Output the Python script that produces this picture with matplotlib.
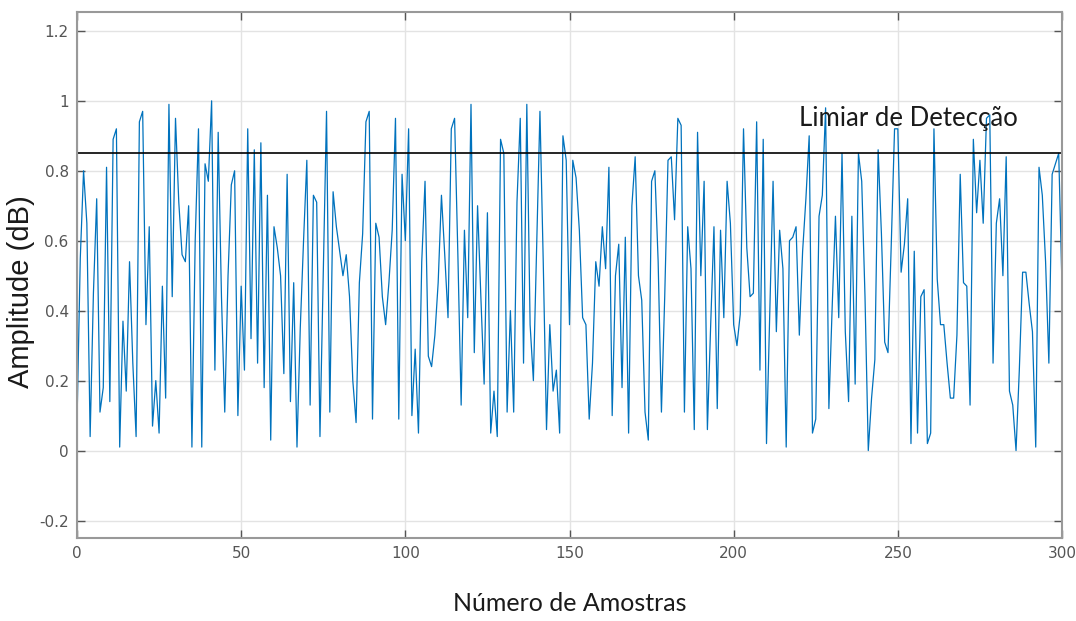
import matplotlib
matplotlib.use("Agg")
import matplotlib.pyplot as plt
import numpy as np

amplitude = [
    0.08, 0.55, 0.80, 0.65, 0.04, 0.45, 0.72, 0.11, 0.18, 0.81,
    0.14, 0.89, 0.92, 0.01, 0.37, 0.17, 0.54, 0.25, 0.04, 0.94,
    0.97, 0.36, 0.64, 0.07, 0.20, 0.05, 0.47, 0.15, 0.99, 0.44,
    0.95, 0.71, 0.56, 0.54, 0.70, 0.01, 0.60, 0.92, 0.01, 0.82,
    0.77, 1.00, 0.23, 0.91, 0.44, 0.11, 0.50, 0.76, 0.80, 0.10,
    0.47, 0.23, 0.92, 0.32, 0.86, 0.25, 0.88, 0.18, 0.73, 0.03,
    0.64, 0.58, 0.50, 0.22, 0.79, 0.14, 0.48, 0.01, 0.35, 0.60,
    0.83, 0.13, 0.73, 0.71, 0.04, 0.51, 0.97, 0.11, 0.74, 0.64,
    0.57, 0.50, 0.56, 0.44, 0.20, 0.08, 0.48, 0.62, 0.94, 0.97,
    0.09, 0.65, 0.61, 0.44, 0.36, 0.48, 0.63, 0.95, 0.09, 0.79,
    0.60, 0.92, 0.10, 0.29, 0.05, 0.54, 0.77, 0.27, 0.24, 0.33,
    0.48, 0.73, 0.56, 0.38, 0.92, 0.95, 0.56, 0.13, 0.63, 0.38,
    0.99, 0.28, 0.70, 0.44, 0.19, 0.68, 0.05, 0.17, 0.04, 0.89,
    0.85, 0.11, 0.40, 0.11, 0.71, 0.95, 0.25, 0.99, 0.36, 0.20,
    0.58, 0.97, 0.54, 0.06, 0.36, 0.17, 0.23, 0.05, 0.90, 0.83,
    0.36, 0.83, 0.78, 0.63, 0.38, 0.36, 0.09, 0.25, 0.54, 0.47,
    0.64, 0.52, 0.81, 0.10, 0.50, 0.59, 0.18, 0.61, 0.05, 0.70,
    0.84, 0.50, 0.43, 0.11, 0.03, 0.77, 0.80, 0.54, 0.11, 0.44,
    0.83, 0.84, 0.66, 0.95, 0.93, 0.11, 0.64, 0.52, 0.06, 0.91,
    0.50, 0.77, 0.06, 0.36, 0.64, 0.12, 0.63, 0.38, 0.77, 0.65,
    0.36, 0.30, 0.39, 0.92, 0.58, 0.44, 0.45, 0.94, 0.23, 0.89,
    0.02, 0.40, 0.77, 0.34, 0.63, 0.52, 0.01, 0.60, 0.61, 0.64,
    0.33, 0.57, 0.72, 0.90, 0.05, 0.09, 0.67, 0.73, 0.98, 0.12,
    0.41, 0.67, 0.38, 0.85, 0.34, 0.14, 0.67, 0.19, 0.85, 0.77,
    0.44, 0.00, 0.15, 0.26, 0.86, 0.62, 0.31, 0.28, 0.59, 0.92,
    0.92, 0.51, 0.59, 0.72, 0.02, 0.57, 0.05, 0.44, 0.46, 0.02,
    0.05, 0.92, 0.49, 0.36, 0.36, 0.25, 0.15, 0.15, 0.33, 0.79,
    0.48, 0.47, 0.13, 0.89, 0.68, 0.83, 0.65, 0.95, 0.96, 0.25,
    0.65, 0.72, 0.50, 0.84, 0.17, 0.13, 0.00, 0.23, 0.51, 0.51,
    0.42, 0.34, 0.01, 0.81, 0.73, 0.54, 0.25, 0.79, 0.82, 0.85,
    0.47,
]
samples = list(range(len(amplitude)))
threshold = 0.85
x_ticks = [0, 50, 100, 150, 200, 250, 300]
y_ticks = [-0.2, 0, 0.2, 0.4, 0.6, 0.8, 1.0, 1.2]
y_tick_labels = ["-0.2", "0", "0.2", "0.4", "0.6", "0.8", "1", "1.2"]

fig = plt.figure(figsize=(10.76, 6.21), dpi=100)
ax = fig.add_axes([77/1076, 83/621, (1062-77)/1076, (609-83)/621])

ax.plot(samples, amplitude, color="#0072BD", lw=0.9)
ax.axhline(threshold, color="black", lw=1.2)

ax.set_xlim(0, 300)
ax.set_ylim(-0.25, 1.254)
ax.set_xticks(x_ticks)
ax.set_yticks(y_ticks)
ax.set_yticklabels(y_tick_labels)
ax.grid(True, color="#e3e3e3", lw=1.0)
ax.set_axisbelow(True)
ax.tick_params(direction="in", length=6, width=1, colors="#555555",
               labelsize=11, top=True, right=True, pad=6)
for s in ax.spines.values():
    s.set_color("#999999")
    s.set_linewidth(1.5)

ax.set_ylabel("Amplitude (dB)", fontsize=21, family="Liberation Sans",
              color="#1a1a1a")
ax.yaxis.set_label_coords(-0.043, 0.468)
ax.set_xlabel("Número de Amostras", fontsize=18, family="Lato",
              color="#1a1a1a", labelpad=22)
ax.text(220, 0.95, "Limiar de Detecção", fontsize=18.5, family="Lato",
        color="#1a1a1a", ha="left", va="center")

fig.savefig("out.png", dpi=100)
